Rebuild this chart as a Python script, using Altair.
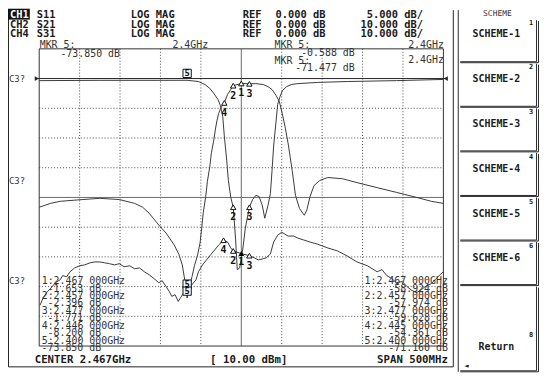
import altair as alt
import pandas as pd

# ---------------- data: traces (frequency GHz, level dB) ----------------
TRACE_A = [(2.217, -0.7), (2.292, -0.6), (2.365, -0.6), (2.400, -0.59), (2.414, -1.0), (2.422, -2.0),
           (2.428, -3.3), (2.433, -5.0), (2.438, -7.0), (2.441, -9.0), (2.444, -12.7), (2.446, -19.3),
           (2.449, -27.7), (2.451, -34.3), (2.454, -40.0), (2.457, -43.3), (2.460, -54.3), (2.462, -64.3),
           (2.465, -63.7), (2.469, -57.0), (2.472, -50.3), (2.477, -43.3), (2.481, -40.7), (2.485, -39.3),
           (2.489, -39.7), (2.493, -42.7), (2.496, -47.0), (2.500, -42.7), (2.503, -38.7), (2.505, -31.0),
           (2.507, -22.7), (2.510, -14.3), (2.512, -8.7), (2.515, -6.0), (2.518, -4.0), (2.523, -2.7),
           (2.529, -2.0), (2.537, -1.7), (2.561, -1.3), (2.598, -1.0), (2.659, -0.7), (2.717, -0.3)]

TRACE_B = [(2.217, -43.3), (2.231, -42.0), (2.243, -41.3), (2.271, -40.7), (2.292, -40.3), (2.316, -40.7),
           (2.335, -42.0), (2.345, -43.3), (2.353, -45.3), (2.365, -49.3), (2.374, -52.0), (2.384, -56.0),
           (2.390, -59.3), (2.394, -62.7), (2.397, -67.7), (2.400, -73.85), (2.402, -70.7), (2.406, -66.7),
           (2.409, -63.0), (2.413, -59.3), (2.416, -55.3), (2.418, -50.3), (2.420, -45.0), (2.423, -39.7),
           (2.425, -34.7), (2.428, -29.7), (2.430, -25.0), (2.433, -20.7), (2.435, -17.0), (2.437, -14.0),
           (2.439, -11.7), (2.442, -9.7), (2.446, -8.2), (2.450, -5.3), (2.454, -3.7), (2.457, -2.4),
           (2.467, -1.65), (2.477, -1.77), (2.485, -1.7), (2.494, -2.0), (2.500, -2.7), (2.505, -3.7),
           (2.510, -5.7), (2.514, -7.7), (2.517, -11.0), (2.521, -16.0), (2.525, -22.0), (2.530, -31.0),
           (2.534, -39.3), (2.539, -43.7), (2.543, -45.3), (2.545, -46.0), (2.548, -44.3), (2.552, -39.7),
           (2.557, -36.0), (2.564, -34.3), (2.574, -33.3), (2.592, -33.7), (2.610, -35.0), (2.635, -36.7),
           (2.659, -38.3), (2.684, -40.0), (2.702, -41.3), (2.717, -42.0)]

TRACE_C = [(2.218, -76.3), (2.222, -73.7), (2.227, -71.7), (2.230, -71.0), (2.237, -68.7), (2.243, -67.7),
           (2.246, -66.3), (2.251, -66.7), (2.255, -65.0), (2.261, -63.7), (2.267, -63.0), (2.273, -62.7),
           (2.280, -62.0), (2.286, -61.7), (2.292, -61.7), (2.298, -62.0), (2.304, -62.3), (2.310, -62.7),
           (2.316, -62.3), (2.322, -63.3), (2.329, -63.0), (2.335, -64.0), (2.341, -63.7), (2.347, -65.0),
           (2.353, -66.0), (2.359, -67.3), (2.365, -68.7), (2.369, -68.0), (2.374, -70.0), (2.378, -71.7),
           (2.381, -73.3), (2.385, -72.7), (2.389, -75.0), (2.392, -73.7), (2.396, -72.0), (2.400, -71.5),
           (2.403, -70.3), (2.407, -69.0), (2.411, -67.7), (2.414, -65.0), (2.419, -62.7), (2.424, -61.0),
           (2.429, -59.3), (2.434, -57.7), (2.439, -56.0), (2.445, -54.4), (2.450, -55.0), (2.454, -57.0),
           (2.457, -58.0), (2.467, -58.9), (2.477, -59.6), (2.483, -60.3), (2.488, -61.0), (2.493, -60.7),
           (2.498, -60.3), (2.503, -59.0), (2.507, -55.0), (2.512, -52.7), (2.517, -51.7), (2.525, -53.0),
           (2.532, -53.0), (2.537, -53.7), (2.544, -54.3), (2.552, -55.0), (2.561, -55.7), (2.574, -57.0),
           (2.586, -58.0), (2.598, -59.7), (2.610, -61.7), (2.623, -63.0), (2.635, -65.0), (2.641, -64.3),
           (2.647, -66.3), (2.653, -67.3), (2.659, -68.7), (2.666, -68.3), (2.672, -70.0), (2.678, -71.3),
           (2.684, -72.0), (2.690, -71.0), (2.696, -69.7), (2.702, -69.0), (2.708, -67.3), (2.713, -66.0),
           (2.717, -65.0)]

# markers: (frequency, level, label)
MARKERS_B = [(2.457, -2.4, "2"), (2.467, -1.65, "1"), (2.477, -1.77, "3"), (2.446, -8.2, "4")]
MARKERS_A = [(2.457, -43.3, "2"), (2.477, -43.3, "3")]
MARKERS_C = [(2.445, -54.4, "4"), (2.457, -58.0, "2"), (2.477, -59.6, "3")]
MARKER_C_ACTIVE = [(2.467, -58.9, "1")]
MARKERS_5 = [(2.400, -0.59, "5"), (2.400, -71.5, "5"), (2.400, -73.85, "5")]

# grid
F_START, F_STOP = 2.217, 2.717
DB_TOP, DB_BOT = 10, -90
GRID_F = [2.267, 2.317, 2.367, 2.417, 2.517, 2.567, 2.617, 2.667]
CENTER_F = [2.467]
GRID_DB = [-10, -20, -30, -50, -60, -70, -80]
SOLID_DB = [-40]
REF_DB = 0

# texts
HDR_CH = ["CH1", "CH2", "CH4"]
HDR_PARAM = ["S11", "S21", "S31"]
HDR_FMT = ["LOG MAG", "LOG MAG", "LOG MAG"]
HDR_REF = ["REF", "REF", "REF"]
HDR_REFVAL = ["0.000 dB", "0.000 dB", "0.000 dB"]
HDR_SCALE = ["5.000 dB/", "10.000 dB/", "10.000 dB/"]
CH_LABELS = ["C3?", "C3?", "C3?"]
MKR_LEFT_F = ["1:2.467 000GHz", "2:2.457 000GHz", "3:2.477 000GHz", "4:2.446 000GHz", "5:2.400 000GHz"]
MKR_LEFT_V = ["-1.653 dB", "-2.396 dB", "-1.771 dB", "-8.200 dB", "-73.850 dB"]
MKR_RIGHT_F = ["1:2.467 000GHz", "2:2.457 000GHz", "3:2.477 000GHz", "4:2.445 000GHz", "5:2.400 000GHz"]
MKR_RIGHT_V = ["-58.924 dB", "-57.974 dB", "-59.628 dB", "-54.361 dB", "-71.160 dB"]
TOP_LEFT = ["MKR 5:", "2.4GHz", "-73.850 dB"]
TOP_RIGHT = ["MKR 5:", "-0.588 dB", "MKR 5:", "-71.477 dB", "2.4GHz", "2.4GHz"]
FOOTER = ["CENTER 2.467GHz", "[ 10.00 dBm]", "SPAN 500MHz"]
MENU_TITLE = "SCHEME"
SOFTKEYS = ["SCHEME-1", "SCHEME-2", "SCHEME-3", "SCHEME-4", "SCHEME-5", "SCHEME-6", "Return"]
SOFTKEY_NUM = ["1", "2", "3", "4", "5", "6", "8"]

# ---------------- layout ----------------
W, H = 536, 366
OFF = 8  # page margin


def px(v):
    return v - OFF


MONO = "DejaVu Sans Mono"
INK = "#1a1a1a"
SOFT = "#333333"
TRACE = "#3a3a3a"
GRIDC = "#4a4a4a"
SMALL = 10

XS = alt.Scale(domain=[F_START, F_STOP], range=[px(39) + 0.5, px(447) + 0.5], nice=False, zero=False)
YS = alt.Scale(domain=[DB_BOT, DB_TOP], range=[px(347) + 0.5, px(47) + 0.5], nice=False, zero=False)

layers = []


def X(f):
    return alt.X(f, scale=XS, axis=None)


def Y(f):
    return alt.Y(f, scale=YS, axis=None)


def PX(f):
    return alt.X(f, scale=None, axis=None)


def PY(f):
    return alt.Y(f, scale=None, axis=None)


def segs(rows, color=INK, width=1):
    df = pd.DataFrame([(px(a) + 0.5, px(b) + 0.5, px(c) + 0.5, px(d) + 0.5) for a, b, c, d in rows],
                      columns=["x", "y", "x2", "y2"])
    return alt.Chart(df).mark_rule(color=color, strokeWidth=width).encode(
        x=PX("x:Q"), y=PY("y:Q"), x2="x2:Q", y2="y2:Q")


def texts(items, xs, ys, size=10.5, bold=False, align="left", color=INK, font=MONO):
    df = pd.DataFrame({"t": items, "x": [px(v) for v in xs], "y": [px(v) for v in ys]})
    return alt.Chart(df).mark_text(font=font, fontSize=size, fontWeight="bold" if bold else "normal",
                                   align=align, baseline="middle", color=color).encode(
        x=PX("x:Q"), y=PY("y:Q"), text="t:N")


# ---- grid ----
vg = pd.DataFrame({"f": GRID_F, "a": DB_TOP, "b": DB_BOT})
layers.append(alt.Chart(vg).mark_rule(color=GRIDC, strokeWidth=1, strokeDash=[1, 2]).encode(
    x=X("f:Q"), y=Y("a:Q"), y2="b:Q"))
hg = pd.DataFrame({"d": GRID_DB, "a": F_START, "b": F_STOP})
layers.append(alt.Chart(hg).mark_rule(color=GRIDC, strokeWidth=1, strokeDash=[1, 2]).encode(
    y=Y("d:Q"), x=X("a:Q"), x2="b:Q"))
cg = pd.DataFrame({"f": CENTER_F, "a": DB_TOP, "b": DB_BOT})
layers.append(alt.Chart(cg).mark_rule(color="#6a6a6a", strokeWidth=1).encode(x=X("f:Q"), y=Y("a:Q"), y2="b:Q"))
sg = pd.DataFrame({"d": SOLID_DB, "a": F_START, "b": F_STOP})
layers.append(alt.Chart(sg).mark_rule(color="#6a6a6a", strokeWidth=1).encode(y=Y("d:Q"), x=X("a:Q"), x2="b:Q"))
bd = pd.DataFrame({"a": [F_START], "b": [F_STOP], "c": [DB_TOP], "d": [DB_BOT]})
layers.append(alt.Chart(bd).mark_rect(fillOpacity=0, stroke="#333333", strokeWidth=1).encode(
    x=X("a:Q"), x2="b:Q", y=Y("c:Q"), y2="d:Q"))
# reference line with end arrows
rl = pd.DataFrame({"d": [REF_DB], "a": [F_START - 0.003], "b": [F_STOP + 0.003]})
layers.append(alt.Chart(rl).mark_rule(color="#222222", strokeWidth=1).encode(y=Y("d:Q"), x=X("a:Q"), x2="b:Q"))
layers.append(alt.Chart(pd.DataFrame({"f": [F_START - 0.003], "d": [REF_DB]})).mark_point(
    shape="triangle-right", filled=True, size=22, color="#222222", opacity=1).encode(x=X("f:Q"), y=Y("d:Q")))
layers.append(alt.Chart(pd.DataFrame({"f": [F_STOP + 0.003], "d": [REF_DB]})).mark_point(
    shape="triangle-left", filled=True, size=22, color="#222222", opacity=1).encode(x=X("f:Q"), y=Y("d:Q")))

# ---- traces ----
rows = []
for name, tr in (("A", TRACE_A), ("B", TRACE_B), ("C", TRACE_C)):
    for i, (f, d) in enumerate(tr):
        rows.append({"s": name, "i": i, "f": f, "db": d})
tdf = pd.DataFrame(rows)
layers.append(alt.Chart(tdf).mark_line(strokeWidth=1, color=TRACE).encode(
    x=X("f:Q"), y=Y("db:Q"), detail="s:N", order="i:Q"))

# ---- markers ----
mk = pd.DataFrame([{"f": f, "db": d, "lab": l} for f, d, l in MARKERS_B + MARKERS_A + MARKERS_C])
layers.append(alt.Chart(mk).mark_point(shape="triangle-up", filled=True, fill="white", stroke="#111111",
                                       strokeWidth=1, size=30, opacity=1).encode(x=X("f:Q"), y=Y("db:Q")))
layers.append(alt.Chart(mk).mark_text(font=MONO, fontSize=10, fontWeight="bold", dy=10, color="#111111").encode(
    x=X("f:Q"), y=Y("db:Q"), text="lab:N"))
ma = pd.DataFrame([{"f": f, "db": d, "lab": l} for f, d, l in MARKER_C_ACTIVE])
layers.append(alt.Chart(ma).mark_point(shape="triangle-up", filled=True, color="#000000", size=34,
                                       opacity=1).encode(x=X("f:Q"), y=Y("db:Q")))
layers.append(alt.Chart(ma).mark_text(font=MONO, fontSize=10, fontWeight="bold", dy=9, color="#111111").encode(
    x=X("f:Q"), y=Y("db:Q"), text="lab:N"))
m5 = pd.DataFrame([{"f": f, "db": d, "lab": l} for f, d, l in MARKERS_5])
layers.append(alt.Chart(m5).mark_point(shape="square", filled=True, fill="white", stroke="#111111",
                                       strokeWidth=1, size=70, opacity=1, yOffset=-7).encode(
    x=X("f:Q"), y=Y("db:Q")))
layers.append(alt.Chart(m5).mark_text(font=MONO, fontSize=9, fontWeight="bold", dy=-7, color="#111111").encode(
    x=X("f:Q"), y=Y("db:Q"), text="lab:N"))

# ---- left panel frame ----
layers.append(segs([(OFF, OFF, OFF, 368), (OFF, 368, 457, 368), (457, OFF, 457, 368)], color="#222222"))

# ---- header ----
layers.append(alt.Chart(pd.DataFrame({"x": [px(8)], "x2": [px(30)], "y": [px(7)], "y2": [px(18)]})).mark_rect(
    color="#111111").encode(x=PX("x:Q"), x2="x2:Q", y=PY("y:Q"), y2="y2:Q"))
hy = [13, 23, 33]
layers.append(texts(HDR_CH[:1], [10], hy[:1], bold=True, color="white"))
layers.append(texts(HDR_CH[1:], [10, 10], hy[1:], bold=True))
layers.append(texts(HDR_PARAM, [37] * 3, hy, bold=True))
layers.append(texts(HDR_FMT, [132] * 3, hy, bold=True))
layers.append(texts(HDR_REF, [245] * 3, hy, bold=True))
layers.append(texts(HDR_REFVAL, [278] * 3, hy, bold=True))
layers.append(texts(HDR_SCALE, [427] * 3, hy, bold=True, align="right"))

# ---- channel labels ----
layers.append(texts(CH_LABELS, [9, 9, 9], [78, 181, 282], size=9, color=SOFT))

# ---- marker readouts ----
ly = [282 + 7.5 * i for i in range(10)]
layers.append(texts(MKR_LEFT_F, [42] * 5, ly[0::2], size=SMALL, color=SOFT))
layers.append(texts(MKR_LEFT_V, [102] * 5, ly[1::2], size=SMALL, color=SOFT, align="right"))
layers.append(texts(MKR_RIGHT_F, [452] * 5, ly[0::2], size=SMALL, color=SOFT, align="right"))
layers.append(texts(MKR_RIGHT_V, [452] * 5, ly[1::2], size=SMALL, color=SOFT, align="right"))
layers.append(texts(TOP_LEFT[:2], [40, 174], [44, 44], size=SMALL, color=SOFT))
layers.append(texts(TOP_LEFT[2:], [121], [53], size=SMALL, color=SOFT, align="right"))
layers.append(texts([TOP_RIGHT[0], TOP_RIGHT[2]], [277, 277], [44, 60], size=SMALL, color=SOFT))
layers.append(texts([TOP_RIGHT[1], TOP_RIGHT[3]], [358, 358], [52, 67], size=SMALL, color=SOFT, align="right"))
layers.append(texts(TOP_RIGHT[4:], [448, 448], [44, 59], size=SMALL, color=SOFT, align="right"))

# ---- footer ----
layers.append(texts(FOOTER[:1], [35], [362], size=10.8, bold=True))
layers.append(texts(FOOTER[1:2], [212], [362], size=10.8, bold=True))
layers.append(texts(FOOTER[2:], [452], [362], size=10.8, bold=True, align="right"))

# ---- softkey panel ----
tops = [17, 61, 106, 151, 196, 241, 286]
bots = [61, 106, 151, 196, 241, 286, 373]
kseg = [(462, OFF, 462, 373)]
for t, b in zip(tops, bots):
    kseg.append((464, b - 1, 541, b - 1))
    kseg.append((541, t + 1, 541, b - 1))
    kseg.append((543, t + 2, 543, b))
    kseg.append((464, b, 543, b))
layers.append(segs(kseg, color="#2a2a2a"))
layers.append(texts([MENU_TITLE], [502], [12], size=8, align="center", color=SOFT))
ky = [33, 78, 123, 169, 214, 259, 348]
layers.append(texts(SOFTKEYS, [501] * 7, ky, size=10, bold=True, align="center"))
layers.append(texts(SOFTKEY_NUM, [536] * 7, [v - 12 for v in ky], size=7, bold=True, align="center"))
layers.append(texts(["\u25c4"], [471], [368], size=7, align="center"))

chart = alt.layer(*layers).resolve_scale(x="independent", y="independent").properties(
    width=W, height=H, padding=0, autosize="none", background="white"
).configure_view(stroke=None)

chart.save("out.html", embed_options={"renderer": "svg", "actions": False})
